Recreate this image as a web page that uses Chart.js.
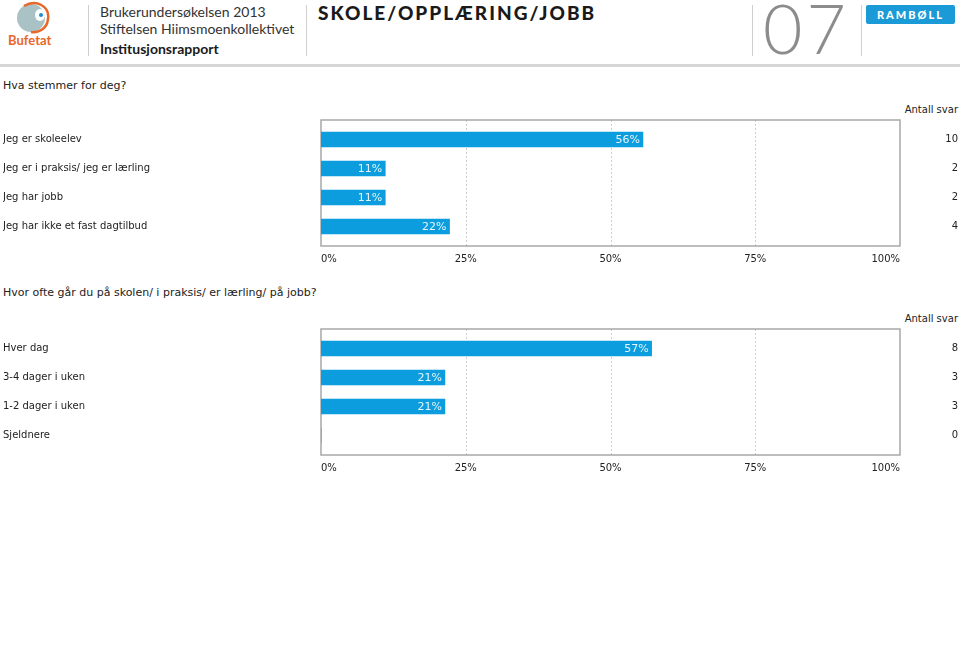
<!DOCTYPE html>
<html>
<head>
<meta charset="utf-8">
<script src="https://cdn.jsdelivr.net/npm/chart.js@4.4.0/dist/chart.umd.min.js"></script>
<style>
body { margin: 0; background: #fff; font-family: "DejaVu Sans", sans-serif; color: #222; }
#page { position: relative; width: 960px; height: 652px; overflow: hidden; }
.abs { position: absolute; white-space: nowrap; }
.sep { position: absolute; width: 1px; background: #cfcfcf; top: 5px; height: 51px; }
.head { font-family: Lato, "Open Sans", sans-serif; color: #333; font-size: 14px; line-height: 18px; }
.q { font-size: 11px; line-height: 14px; color: #222; }
.antall { font-size: 10px; line-height: 12px; right: 2px; color: #222; }
.chartbox { position: absolute; left: 0; width: 960px; height: 175px; }
</style>
</head>
<body>
<div id="page">
  <!-- topptekst -->
  <svg class="abs" style="left:4px;top:0" width="56" height="36">
    <circle cx="27" cy="18" r="14" fill="#a9c2c5"/>
    <path d="M20 6 C32 -1 46 6 44 19 C43 28 36 33 27 32" stroke="#e8672a" stroke-width="2.5" fill="none"/>
    <ellipse cx="36" cy="15" rx="5" ry="6" fill="#fff"/>
    <circle cx="37" cy="15" r="2" fill="#1b8fd2"/>
  </svg>
  <div class="abs" style="left:8px;top:32px;font-family:Lato,sans-serif;font-weight:700;font-size:13px;color:#e8672a">Bufetat</div>
  <div class="sep" style="left:88px"></div>
  <div class="abs head" style="left:100px;top:3px">Brukerundersøkelsen 2013</div>
  <div class="abs head" style="left:100px;top:20px">Stiftelsen Hiimsmoenkollektivet</div>
  <div class="abs head" style="left:100px;top:40px;font-weight:700;color:#1a1a1a">Institusjonsrapport</div>
  <div class="sep" style="left:306px"></div>
  <div class="abs" style="left:318px;top:3px;font-family:Lato,sans-serif;font-weight:900;font-size:19px;line-height:19px;letter-spacing:2px;color:#1a1a1a">SKOLE/OPPLÆRING/JOBB</div>
  <div class="sep" style="left:752px"></div>
  <div class="abs" style="left:763px;top:-6px;font-family:Lato,sans-serif;font-weight:300;font-size:68px;line-height:68px;letter-spacing:4px;color:#8c8c8c">07</div>
  <div class="sep" style="left:861px"></div>
  <div class="abs" style="left:866px;top:5px;width:89px;height:19px;background:#1a9ad6;border-radius:2px;color:#fff;font-family:Lato,sans-serif;font-weight:900;font-size:11px;line-height:19px;text-align:center;letter-spacing:2px">RAMBØLL</div>
  <div class="abs" style="left:0;top:64px;width:960px;height:3px;background:#d6d6d6"></div>

  <div class="abs q" style="left:3px;top:79px">Hva stemmer for deg?</div>
  <div class="abs antall" style="top:104px">Antall svar</div>
  <div class="chartbox" style="top:100px"><canvas id="chart1" width="960" height="175"></canvas></div>

  <div class="abs q" style="left:3px;top:286px">Hvor ofte går du på skolen/ i praksis/ er lærling/ på jobb?</div>
  <div class="abs antall" style="top:313px">Antall svar</div>
  <div class="chartbox" style="top:309px"><canvas id="chart2" width="960" height="175"></canvas></div>
</div>

<script>
// Data
const dagtilbudKategorier = ['Jeg er skoleelev', 'Jeg er i praksis/ jeg er lærling', 'Jeg har jobb', 'Jeg har ikke et fast dagtilbud'];
const dagtilbudProsent = [55.6, 11.1, 11.1, 22.2];
const dagtilbudAntall = [10, 2, 2, 4];

const hyppighetKategorier = ['Hver dag', '3-4 dager i uken', '1-2 dager i uken', 'Sjeldnere'];
const hyppighetProsent = [57.1, 21.4, 21.4, 0];
const hyppighetAntall = [8, 3, 3, 0];

const prosentSteg = 25;
const rutenettVerdier = [25, 50, 75];

const barColor = '#0b9ddd';
const textColor = '#222';

// Ramme og stiplede linjer
const rammePlugin = {
    id: 'ramme',
    beforeDatasetsDraw(chart) {
        const ctx = chart.ctx;
        const a = chart.chartArea;
        const x = chart.scales.x;
        ctx.save();
        ctx.strokeStyle = '#cfcfcf';
        ctx.lineWidth = 1;
        ctx.setLineDash([2, 2]);
        rutenettVerdier.forEach(v => {
            const px = Math.round(x.getPixelForValue(v)) + 0.5;
            ctx.beginPath();
            ctx.moveTo(px, a.top - 5);
            ctx.lineTo(px, a.bottom + 5);
            ctx.stroke();
        });
        ctx.setLineDash([]);
        ctx.strokeStyle = '#a8a8a8';
        ctx.lineWidth = 1.5;
        ctx.strokeRect(a.left, a.top - 5, a.right - a.left, a.bottom - a.top + 10);
        ctx.restore();
    }
};

// Prosent inne i stolpene
const verdiPlugin = {
    id: 'verdi',
    afterDatasetsDraw(chart) {
        const ctx = chart.ctx;
        const data = chart.data.datasets[0].data;
        ctx.save();
        ctx.font = '11px "DejaVu Sans"';
        ctx.fillStyle = '#e6f5fc';
        ctx.textAlign = 'right';
        ctx.textBaseline = 'middle';
        chart.getDatasetMeta(0).data.forEach((bar, i) => {
            if (data[i] <= 0) return;
            ctx.fillText(Math.round(data[i]) + '%', bar.x - 3, bar.y + 1);
        });
        ctx.restore();
    }
};

function lagDiagram(id, kategorier, prosent, antall) {
    const font = { family: '"DejaVu Sans"', size: 10 };
    return new Chart(document.getElementById(id), {
        type: 'bar',
        data: {
            labels: kategorier,
            datasets: [{
                data: prosent,
                backgroundColor: barColor,
                barThickness: 15
            }]
        },
        options: {
            indexAxis: 'y',
            responsive: false,
            animation: false,
            layout: { padding: { left: 3, right: 2, top: 25, bottom: 0 } },
            plugins: {
                legend: { display: false },
                tooltip: { enabled: false }
            },
            scales: {
                x: {
                    min: 0,
                    max: 100,
                    ticks: {
                        stepSize: prosentSteg,
                        align: 'inner',
                        padding: 4,
                        color: textColor,
                        font: font,
                        callback: v => v + '%'
                    },
                    grid: { display: false },
                    border: { display: false },
                    afterFit: s => { s.height = 34; }
                },
                y: {
                    position: 'left',
                    ticks: { crossAlign: 'far', color: textColor, font: font, padding: 0 },
                    grid: { display: false },
                    border: { display: false },
                    afterFit: s => { s.width = 318; }
                },
                y2: {
                    type: 'category',
                    position: 'right',
                    labels: antall.map(String),
                    offset: true,
                    ticks: { crossAlign: 'far', color: textColor, font: font, padding: 0 },
                    grid: { display: false },
                    border: { display: false },
                    afterFit: s => { s.width = 58; }
                }
            }
        },
        plugins: [rammePlugin, verdiPlugin]
    });
}

lagDiagram('chart1', dagtilbudKategorier, dagtilbudProsent, dagtilbudAntall);
lagDiagram('chart2', hyppighetKategorier, hyppighetProsent, hyppighetAntall);
</script>
</body>
</html>
